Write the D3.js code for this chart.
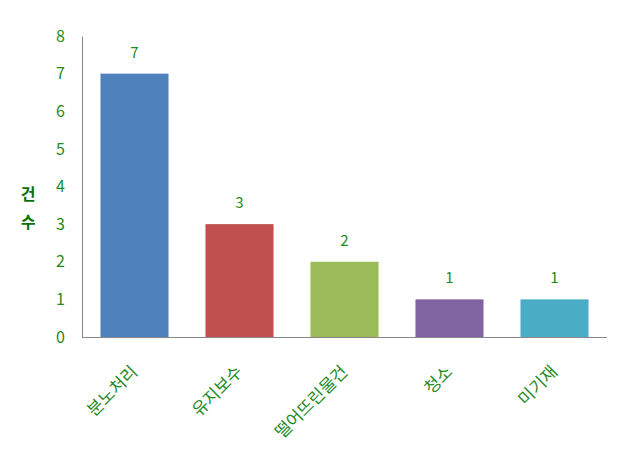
<!DOCTYPE html>
<html><head><meta charset="utf-8">
<script src="https://cdn.jsdelivr.net/npm/d3@7"></script>
<style>body{margin:0;background:#fff}svg{display:block}text{font-family:"Noto Sans CJK KR","Malgun Gothic",sans-serif}</style>
</head><body><svg id="c" width="630" height="449"></svg>
<script>
const categories = ["분노처리","유지보수","떨어뜨린물건","청소","미기재"];
const values = [7,3,2,1,1];
const colors = ["#4F81BD","#C0504D","#9BBB59","#8064A2","#4BACC6"];
const yTicks = [0,1,2,3,4,5,6,7,8];
const yTitle = ["건","수"];

const svg = d3.select("#c");
const x = d3.scaleBand().domain(categories).range([82,607]).paddingInner(0.352).paddingOuter(0.176);
const y = d3.scaleLinear().domain([0,8]).range([337,36]);
const txt = "#1f8a1f";

svg.selectAll("rect.bar").data(values).join("rect")
  .attr("x",(d,i)=>x(categories[i])).attr("width",x.bandwidth())
  .attr("y",d=>y(d)).attr("height",d=>y(0)-y(d))
  .attr("fill",(d,i)=>colors[i]);

svg.selectAll("text.val").data(values).join("text")
  .attr("x",(d,i)=>x(categories[i])+x.bandwidth()/2).attr("y",d=>y(d)-16)
  .attr("text-anchor","middle").attr("font-size",15).attr("fill",txt).text(d=>d);

const yAxis = svg.append("g").attr("transform","translate(82,0)")
  .call(d3.axisLeft(y).tickValues(yTicks).tickSize(0).tickPadding(17));
yAxis.select(".domain").attr("stroke","#888");
yAxis.selectAll("text").attr("font-size",16).attr("fill",txt).attr("font-family","'Noto Sans CJK KR',sans-serif");

const xAxis = svg.append("g").attr("transform","translate(0,337)")
  .call(d3.axisBottom(x).tickSize(0).tickFormat(""));
xAxis.select(".domain").attr("stroke","#888").attr("d","M82,0.5H607");

svg.selectAll("text.cat").data(categories).join("text")
  .attr("transform",d=>`translate(${x(d)+x.bandwidth()/2+4},373) rotate(-45)`)
  .attr("text-anchor","end").attr("font-size",17).attr("fill",txt).text(d=>d);

svg.selectAll("text.yt").data(yTitle).join("text")
  .attr("x",28).attr("y",(d,i)=>200+i*28).attr("text-anchor","middle")
  .attr("font-size",16).attr("font-weight","bold").attr("fill","#0a700a").text(d=>d);
</script></body></html>
